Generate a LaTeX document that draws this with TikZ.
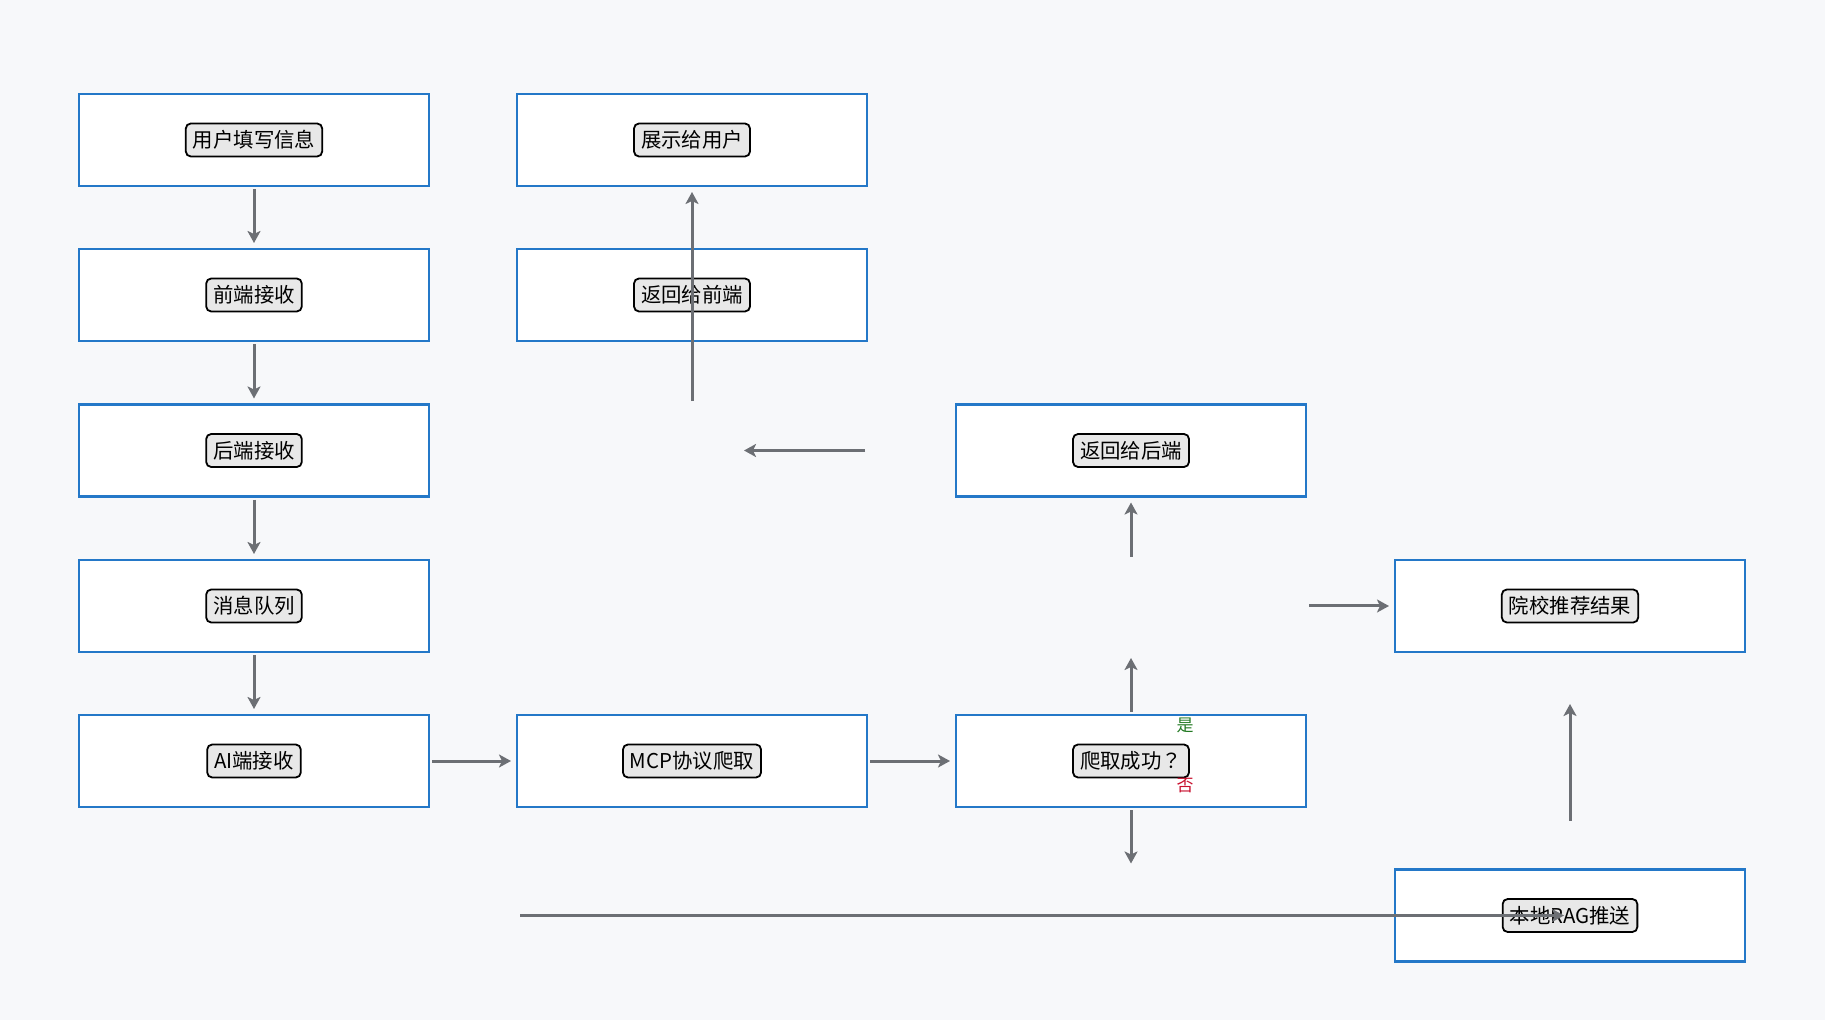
\documentclass[tikz,border=0pt]{standalone}
\usepackage{fontspec}
\newfontfamily\cjk{Noto Sans CJK SC}
\newfontfamily\cjktc{Noto Sans CJK TC}
\usetikzlibrary{arrows.meta}
\definecolor{bgcol}{HTML}{F7F8FA}
\definecolor{boxblue}{HTML}{2478C8}
\definecolor{tagfill}{HTML}{E8E8E8}
\definecolor{arrgray}{HTML}{6C6F74}
\definecolor{yesgreen}{HTML}{237A23}
\definecolor{nored}{HTML}{C8102E}
\tikzset{
	box/.style={draw=boxblue, line width=1.2pt, fill=white, outer sep=0pt,
		minimum width=175pt, minimum height=46pt},
	cell/.style={outer sep=0pt, minimum width=175pt, minimum height=46pt},
	tag/.style={draw=black, line width=0.9pt, fill=tagfill, rounded corners=2.5pt,
		inner xsep=3.5pt, inner ysep=0pt, minimum height=16.5pt,
		font=\cjk\fontsize{10.2}{12}\selectfont},
	arr/.style={draw=arrgray, line width=1.5pt,
		-{Stealth[length=6pt, width=6.5pt, inset=1.5pt]},
		shorten <=1.7pt, shorten >=3pt},
}
\begin{document}
\begin{tikzpicture}[x=0.5pt, y=-0.5pt]
		\fill[bgcol] (0,0) rectangle (1825,1020);
		\useasboundingbox (0,0) rectangle (1825,1020);
		% column 1
		\node[box] (user) at (254,140) {};
		\node[box] (front) at (254,295) {};
		\node[box] (back) at (254,450.5) {};
		\node[box] (queue) at (254,606) {};
		\node[box] (ai) at (254,761) {};
		% column 2
		\node[box] (show) at (692,140) {};
		\node[box] (retF) at (692,295) {};
		\node[cell] (hub) at (692,450.5) {};
		\node[box] (mcp) at (692,761) {};
		\node[cell] (drop) at (692,915.5) {};
		% column 3
		\node[box] (retB) at (1131,450.5) {};
		\node[cell] (split) at (1131,606) {};
		\node[box] (crawl) at (1131,761) {};
		\node[cell] (fail) at (1131,915.5) {};
		% column 4
		\node[box] (rank) at (1570,606) {};
		\node[box] (rag) at (1570,915.5) {};
		% labels
		\node[tag] (userT) at (user) {用户填写信息};
		\node[tag] (frontT) at (front) {前端接收};
		\node[tag] (backT) at (back) {后端接收};
		\node[tag] (queueT) at (queue) {消息队列};
		\node[tag] (aiT) at (ai) {AI端接收};
		\node[tag] (showT) at (show) {展示给用户};
		\node[tag] (retFT) at (retF) {返回给前端};
		\node[tag] (mcpT) at (mcp) {MCP协议爬取};
		\node[tag] (retBT) at (retB) {返回给后端};
		\node[tag] (crawlT) at (crawl) {爬取成功{\cjktc ？}};
		\node[tag] (rankT) at (rank) {院校推荐结果};
		\node[tag] (ragT) at (rag) {本地RAG推送};
		\node[text=yesgreen, font=\cjk\fontsize{8.5}{10}\selectfont, inner sep=0pt] (yesL) at (1185,725) {是};
		\node[text=nored, font=\cjk\fontsize{8.5}{10}\selectfont, inner sep=0pt] (noL) at (1185,786) {否};
		% arrows
		\draw[arr] (user) -- (front);
		\draw[arr] (front) -- (back);
		\draw[arr] (back) -- (queue);
		\draw[arr] (queue) -- (ai);
		\draw[arr] (ai) -- (mcp);
		\draw[arr] (mcp) -- (crawl);
		\draw[arr] (crawl) -- (split);
		\draw[arr] (split) -- (retB);
		\draw[arr] (split) -- (rank);
		\draw[arr] (crawl) -- (fail);
		\draw[arr] (drop.west) -- (rag.center);
		\draw[arr, shorten <=24.5pt, shorten >=26pt] (rag.north) -- (rank.south);
		\draw[arr, shorten <=45.5pt, shorten >=26pt] (retB.west) -- (hub.center);
		\draw[arr] (hub.north) -- (show.south);
	\end{tikzpicture}
\end{document}
